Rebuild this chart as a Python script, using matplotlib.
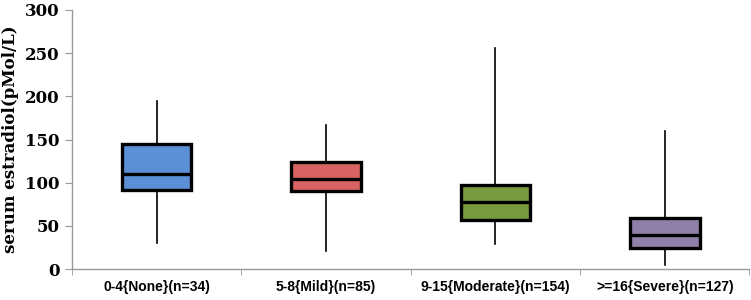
import matplotlib
matplotlib.use("Agg")
import matplotlib.pyplot as plt
import numpy as np

# groups and box stats
groups = ["0-4{None}(n=34)", "5-8{Mild}(n=85)", "9-15{Moderate}(n=154)", ">=16{Severe}(n=127)"]
whislo = [30, 21, 29, 5]
q1 = [91, 90, 57, 24]
med = [110, 104, 78, 40]
q3 = [145, 124, 97, 59]
whishi = [194, 167, 256, 160]
colors = ["#5B8FD6", "#D96262", "#78993E", "#8E80A8"]

stats = []
for i in range(len(groups)):
    stats.append({"whislo": whislo[i], "q1": q1[i], "med": med[i],
                  "q3": q3[i], "whishi": whishi[i], "label": groups[i]})

fig = plt.figure(figsize=(7.51, 3.0), dpi=100)
ax = fig.add_axes([0.096, 0.103, 0.902, 0.864])

pos = np.arange(len(groups))
bp = ax.bxp(stats, positions=pos, widths=0.41, showfliers=False, showcaps=False,
            patch_artist=True,
            boxprops=dict(edgecolor="black", linewidth=2.4),
            medianprops=dict(color="black", linewidth=2.4),
            whiskerprops=dict(color="black", linewidth=1.2))
for patch, c in zip(bp["boxes"], colors):
    patch.set_facecolor(c)
    patch.set_zorder(3)
for m in bp["medians"]:
    m.set_zorder(4)

ax.set_xlim(-0.5, len(groups) - 0.5)
ax.set_ylim(0, 300)
ax.set_yticks(np.arange(0, 301, 50))

for s in ["top", "right"]:
    ax.spines[s].set_visible(False)
for s in ["left", "bottom"]:
    ax.spines[s].set_color("#999999")
    ax.spines[s].set_linewidth(1.0)

ax.set_xticks(pos)
ax.set_xticklabels(groups, family="Liberation Sans", fontweight="bold", fontsize=10)
ax.tick_params(axis="x", which="major", length=0, pad=8)
ax.set_xticks(np.arange(-0.5, len(groups)), minor=True)
ax.tick_params(axis="x", which="minor", length=4, color="#999999", direction="out")
ax.tick_params(axis="y", length=5, color="#999999", direction="out", pad=4)
for t in ax.get_yticklabels():
    t.set_family("DejaVu Serif")
    t.set_fontweight("bold")
    t.set_fontsize(12)

ax.set_ylabel("serum estradiol(pMol/L)", family="DejaVu Serif", fontweight="bold",
              fontsize=12, labelpad=4)

fig.savefig("out.png", dpi=100)
